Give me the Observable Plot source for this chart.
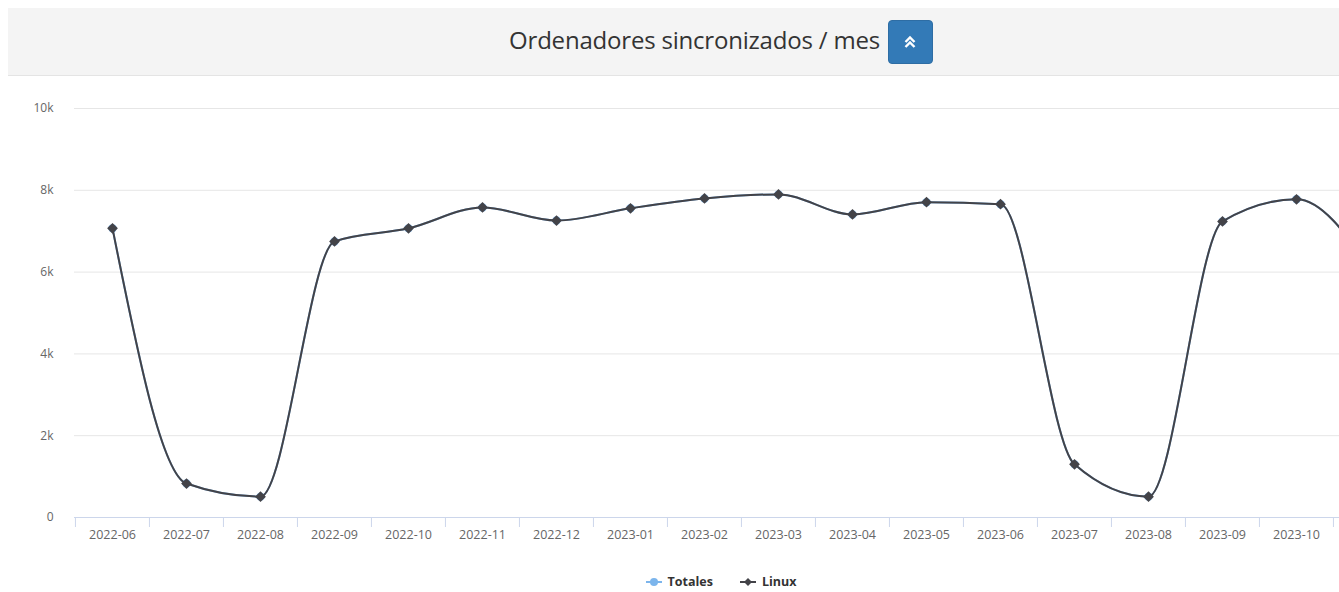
<!DOCTYPE html>
<html>
<head>
<meta charset="utf-8">
<script src="https://cdn.jsdelivr.net/npm/d3@7"></script>
<script src="https://cdn.jsdelivr.net/npm/@observablehq/plot@0.6"></script>
<style>
  html, body { margin: 0; padding: 0; background: #fff; overflow: hidden; }
  body { width: 1339px; height: 592px; position: relative; font-family: "Open Sans", sans-serif; }
  #page { position: absolute; left: 0; top: 0; width: 1434px; height: 592px; }
  #header { position: absolute; left: 8px; top: 8px; width: 1426px; height: 67px; background: #f4f4f4; border-bottom: 1px solid #e4e4e4;
            display: flex; align-items: center; justify-content: center; }
  #title { font-size: 24px; color: #333; letter-spacing: -0.2px; margin-top: -4px; }
  #btn { margin-left: 8px; width: 45px; height: 44px; box-sizing: border-box; background: #337ab7; border: 1px solid #2e6da4; border-radius: 4px;
         display: flex; align-items: center; justify-content: center; }
  #chart { position: absolute; left: 0; top: 80px; }
  #legend { position: absolute; left: 8px; width: 1426px; top: 573px; display: flex; justify-content: center; gap: 27px;
            font-size: 12.5px; font-weight: bold; color: #333; }
  .item { display: flex; align-items: center; gap: 6px; }
</style>
</head>
<body>
<div id="page">
  <div id="header">
    <span id="title">Ordenadores sincronizados / mes</span>
    <span id="btn"><svg width="14" height="16" viewBox="0 0 14 16"><polyline points="2.5,8 7,3.5 11.5,8" fill="none" stroke="#fff" stroke-width="2.4"/><polyline points="2.5,13 7,8.5 11.5,13" fill="none" stroke="#fff" stroke-width="2.4"/></svg></span>
  </div>
  <div id="chart"></div>
  <div id="legend"></div>
</div>
<script>
const months = ["2022-06","2022-07","2022-08","2022-09","2022-10","2022-11","2022-12","2023-01","2023-02","2023-03","2023-04","2023-05","2023-06","2023-07","2023-08","2023-09","2023-10","2023-11"];
const totales = [7070, 830, 510, 6750, 7070, 7580, 7260, 7560, 7800, 7900, 7410, 7710, 7660, 1300, 510, 7240, 7780, 6100];
const linux   = [7070, 830, 510, 6750, 7070, 7580, 7260, 7560, 7800, 7900, 7410, 7710, 7660, 1300, 510, 7240, 7780, 6100];
const yTicks = [0, 2000, 4000, 6000, 8000, 10000];
const seriesNames = ["Totales", "Linux"];
const seriesColors = ["#7cb5ec", "#434348"];

const dataTot = months.map((m, i) => ({month: m, value: totales[i]}));
const dataLin = months.map((m, i) => ({month: m, value: linux[i]}));

const width = 1434, marginLeft = 74, marginRight = 26;
const step = (width - marginLeft - marginRight) / months.length;
const lastMonth = months[months.length - 1];

const chart = Plot.plot({
  width, height: 477,
  marginLeft, marginRight, marginTop: 28, marginBottom: 40,
  style: {fontFamily: "Open Sans, sans-serif", fontSize: "12px", color: "#666", background: "transparent"},
  x: {type: "point", domain: months, padding: 0.5},
  y: {domain: [0, 10000]},
  marks: [
    Plot.gridY(yTicks, {stroke: "#e6e6e6", strokeOpacity: 1}),
    Plot.axisY(yTicks, {tickSize: 0, tickPadding: 21, label: null, fill: "#666", fontSize: 12,
      tickFormat: d => d === 0 ? "0" : (d / 1000) + "k"}),
    Plot.ruleY([0], {stroke: "#ccd6eb"}),
    Plot.axisX(months, {tickSize: 10, tickFormat: () => "", dx: -step / 2, stroke: "#ccd6eb", label: null}),
    Plot.axisX(months.filter(m => m !== lastMonth), {tickSize: 0, tickPadding: 13, label: null, fill: "#666", fontSize: 12.5}),
    Plot.line(dataTot, {x: "month", y: "value", stroke: seriesColors[0], strokeWidth: 2, curve: "monotone-x"}),
    Plot.dot(dataTot, {x: "month", y: "value", fill: seriesColors[0], r: 4.2, symbol: "circle"}),
    Plot.line(dataLin, {x: "month", y: "value", stroke: seriesColors[1], strokeWidth: 2, curve: "monotone-x"}),
    Plot.dot(dataLin, {x: "month", y: "value", fill: seriesColors[1], r: 4.3, symbol: "square", rotate: 45})
  ]
});
document.getElementById("chart").appendChild(chart);

const legend = document.getElementById("legend");
seriesNames.forEach((name, i) => {
  const item = document.createElement("div");
  item.className = "item";
  const marker = i === 0
    ? `<circle cx="8" cy="6" r="4" fill="${seriesColors[i]}"/>`
    : `<path d="M8,2 L12,6 L8,10 L4,6 Z" fill="${seriesColors[i]}"/>`;
  item.innerHTML = `<svg width="16" height="12"><line x1="0" x2="16" y1="6" y2="6" stroke="${seriesColors[i]}" stroke-width="2"/>${marker}</svg><span>${name}</span>`;
  legend.appendChild(item);
});
</script>
</body>
</html>
